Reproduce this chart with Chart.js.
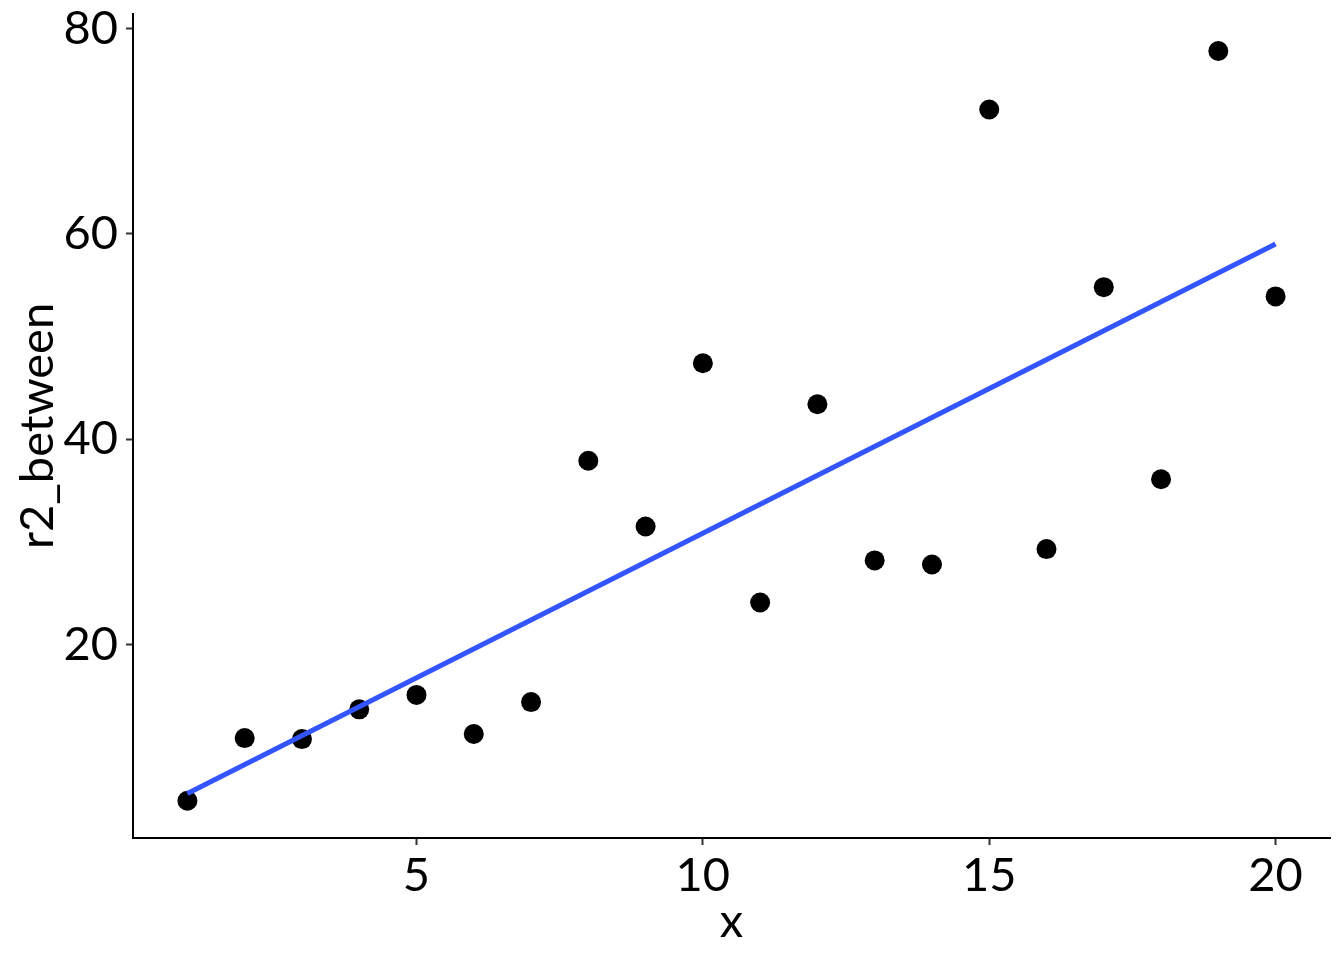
<!DOCTYPE html>
<html>
<head>
<meta charset="utf-8">
<script src="https://cdn.jsdelivr.net/npm/chart.js@4"></script>
<style>
  body { margin: 0; background: white; }
  canvas { display: block; }
</style>
</head>
<body>
<canvas id="chart" width="1344" height="960"></canvas>
<script>
// data
const xValues = [1, 2, 3, 4, 5, 6, 7, 8, 9, 10, 11, 12, 13, 14, 15, 16, 17, 18, 19, 20];
const r2Between = [4.8, 10.9, 10.8, 13.7, 15.1, 11.3, 14.4, 37.9, 31.5, 47.4,
  24.1, 43.4, 28.2, 27.8, 72.1, 29.3, 54.8, 36.1, 77.8, 53.9];
// fitted line ends
const fitX = [1, 20];
const fitY = [5.5, 59.0];

const xTicks = [5, 10, 15, 20];
const yTicks = [20, 40, 60, 80];

const FONT = "Lato";
const SIZE = 47;

const points = xValues.map((x, i) => ({ x: x, y: r2Between[i] }));
const fitLine = fitX.map((x, i) => ({ x: x, y: fitY[i] }));

const ctx = document.getElementById("chart").getContext("2d");

// no extra room for edge labels, the plot area is fixed
function noEdgePadding(s) {
  s.paddingTop = 0;
  s.paddingBottom = 0;
  s.paddingLeft = 0;
  s.paddingRight = 0;
}

new Chart(ctx, {
  type: "scatter",
  data: {
    datasets: [
      {
        type: "line",
        data: fitLine,
        borderColor: "#3355FF",
        borderWidth: 5,
        pointRadius: 0,
        fill: false
      },
      {
        data: points,
        backgroundColor: "black",
        borderColor: "black",
        borderWidth: 0,
        pointRadius: 10,
        pointHoverRadius: 10
      }
    ]
  },
  options: {
    responsive: false,
    animation: false,
    layout: { padding: { top: 14, right: 14, left: 0, bottom: 0 } },
    plugins: {
      legend: { display: false },
      tooltip: { enabled: false }
    },
    scales: {
      x: {
        type: "linear",
        min: 0.05,
        max: 20.95,
        afterBuildTicks: (s) => { s.ticks = xTicks.map(v => ({ value: v })); },
        afterFit: (s) => { s.height = 122; noEdgePadding(s); },
        grid: {
          display: true,
          drawOnChartArea: false,
          drawTicks: true,
          tickLength: 7,
          tickWidth: 2,
          tickColor: "#333"
        },
        border: { display: true, color: "black", width: 2 },
        ticks: {
          color: "black",
          padding: 3,
          font: { family: FONT, size: SIZE }
        },
        title: {
          display: true,
          text: "x",
          color: "black",
          padding: 10,
          font: { family: FONT, size: SIZE }
        }
      },
      y: {
        type: "linear",
        min: 1.17,
        max: 81.4,
        afterBuildTicks: (s) => { s.ticks = yTicks.map(v => ({ value: v })); },
        afterFit: (s) => { s.width = 133; noEdgePadding(s); },
        grid: {
          display: true,
          drawOnChartArea: false,
          drawTicks: true,
          tickLength: 7,
          tickWidth: 2,
          tickColor: "#333"
        },
        border: { display: true, color: "black", width: 2 },
        ticks: {
          color: "black",
          padding: 8,
          font: { family: FONT, size: SIZE }
        },
        title: {
          display: true,
          text: "r2_between",
          color: "black",
          padding: 10,
          font: { family: FONT, size: SIZE }
        }
      }
    }
  }
});
</script>
</body>
</html>
